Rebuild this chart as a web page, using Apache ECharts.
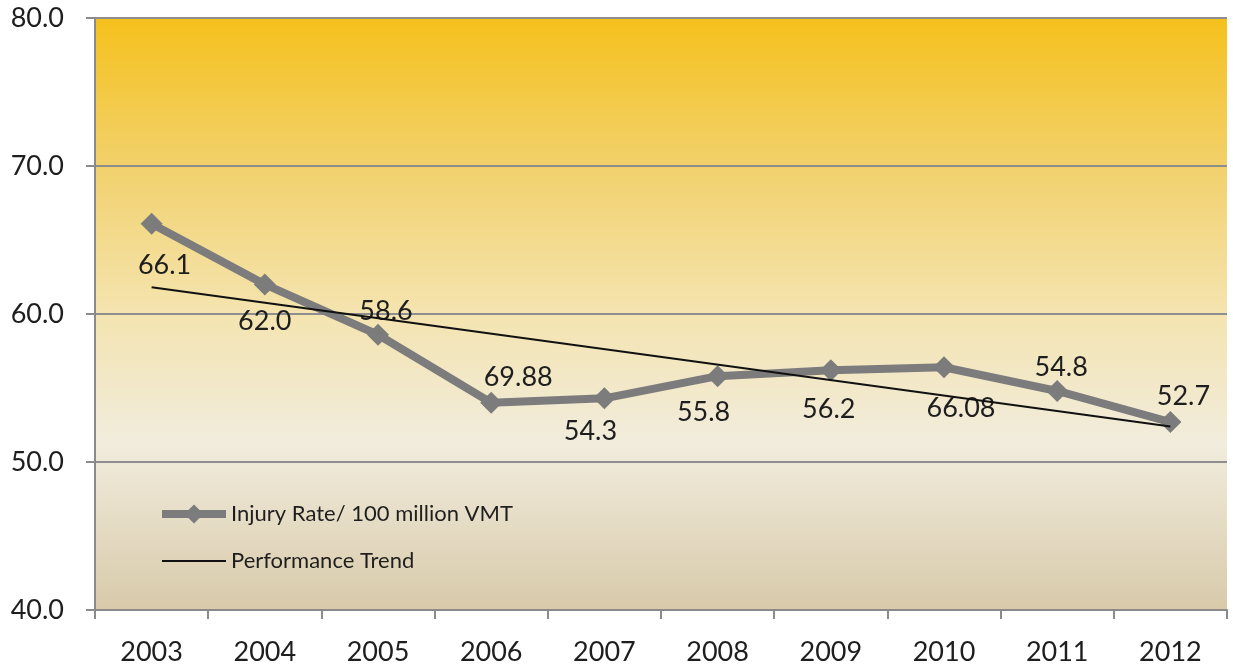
<!DOCTYPE html>
<html>
<head>
<meta charset="utf-8">
<script src="https://cdn.jsdelivr.net/npm/echarts@6/dist/echarts.min.js"></script>
<style>html,body{margin:0;padding:0;background:#fff;}#c{width:1233px;height:667px;}</style>
</head>
<body>
<div id="c"></div>
<script>
var years = ['2003','2004','2005','2006','2007','2008','2009','2010','2011','2012'];
var injuryRate = [66.1, 62.0, 58.6, 54.0, 54.3, 55.8, 56.2, 56.4, 54.8, 52.7];
var labelTexts = ['66.1','62.0','58.6','69.88','54.3','55.8','56.2','66.08','54.8','52.7'];
var trendLine = [61.8, null, null, null, null, null, null, null, null, 52.4];
var yTicks = [40, 50, 60, 70, 80];

// label offsets (styling only)
var labelOffsets = [[13,42],[0,37],[8,-23],[27,-26],[-14,33],[-14,36],[-2,39],[17,41],[4,-24],[13,-26]];

var FONT = 'Lato';
var chart = echarts.init(document.getElementById('c'), null, {renderer:'canvas'});
var injuryData = injuryRate.map(function(v, i){
  return {
    value: v,
    label: {
      show: true,
      formatter: labelTexts[i],
      position: 'inside',
      offset: labelOffsets[i],
      fontFamily: FONT, fontSize: 27, color: '#1e1e1e'
    }
  };
});
chart.setOption({
  animation: false,
  backgroundColor: '#ffffff',
  grid: {
    left: 95, right: 6, top: 18, bottom: 57,
    show: true, borderWidth: 0,
    backgroundColor: new echarts.graphic.LinearGradient(0, 0, 0, 1, [
      {offset: 0, color: '#F5C11C'},
      {offset: 0.25, color: '#F2D16C'},
      {offset: 0.5, color: '#F4E4B0'},
      {offset: 0.72, color: '#F1ECDD'},
      {offset: 1, color: '#D8CAAA'}
    ])
  },
  legend: {
    orient: 'vertical',
    left: 158, top: 503, padding: 0,
    itemWidth: 64, itemHeight: 24, itemGap: 25,
    textStyle: {fontFamily: FONT, fontSize: 22, color: '#1e1e1e'},
    data: [
      {name: 'Injury Rate/ 100 million VMT', lineStyle: {width: 8}},
      {name: 'Performance Trend', icon: 'path://M0,0 L64,0 L64,2 L0,2 Z'}
    ]
  },
  xAxis: {
    type: 'category',
    data: years,
    boundaryGap: true,
    axisLine: {lineStyle: {color: '#8a8a8a', width: 2}},
    axisTick: {show: true, length: 9, lineStyle: {color: '#8a8a8a', width: 2}},
    axisLabel: {fontFamily: FONT, fontSize: 27, color: '#1e1e1e', margin: 29}
  },
  yAxis: {
    type: 'value',
    min: yTicks[0], max: yTicks[yTicks.length-1], interval: 10,
    axisLine: {show: true, lineStyle: {color: '#8a8a8a', width: 2}},
    axisTick: {show: true, length: 9, lineStyle: {color: '#8a8a8a', width: 2}},
    splitLine: {lineStyle: {color: '#8e8e8e', width: 2}},
    axisLabel: {fontFamily: FONT, fontSize: 27, color: '#1e1e1e', margin: 31,
      formatter: function(v){ return v.toFixed(1); }}
  },
  series: [
    {
      name: 'Injury Rate/ 100 million VMT',
      type: 'line',
      data: injuryData,
      lineStyle: {color: '#7c7c7c', width: 8},
      itemStyle: {color: '#7c7c7c'},
      symbol: 'diamond', symbolSize: 22,
      z: 2
    },
    {
      name: 'Performance Trend',
      type: 'line',
      data: trendLine,
      connectNulls: true,
      symbol: 'none',
      lineStyle: {color: '#111111', width: 2},
      itemStyle: {color: '#111111'},
      z: 3
    }
  ]
});
</script>
</body>
</html>
